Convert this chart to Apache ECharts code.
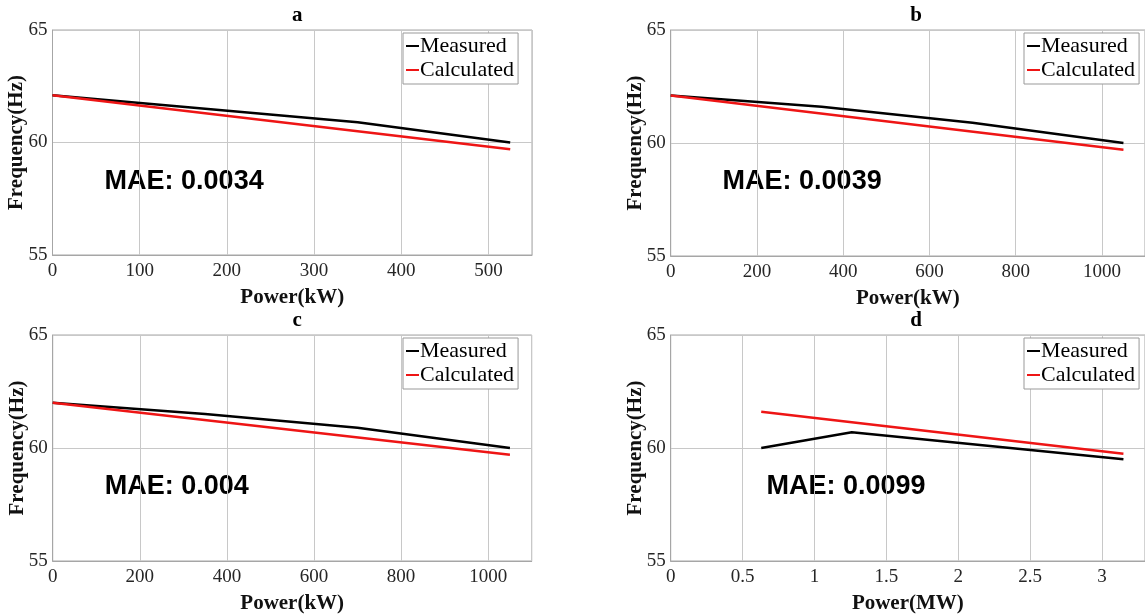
<!DOCTYPE html>
<html>
<head>
<meta charset="utf-8">
<script src="https://cdn.jsdelivr.net/npm/echarts@6/dist/echarts.min.js"></script>
<style>
html, body { margin: 0; padding: 0; background: #fff; }
#main { width: 1145px; height: 616px; }
</style>
</head>
<body>
<div id="main"></div>
<script>
// a: 0-525 kW
var aPower = [0, 175, 350, 525];
var aMeasured = [62.1, 61.5, 60.9, 60.0];
var aCalcPower = [0, 525];
var aCalculated = [62.1, 59.7];
// b: 0-1050 kW
var bPower = [0, 350, 700, 1050];
var bMeasured = [62.1, 61.6, 60.9, 60.0];
var bCalcPower = [0, 1050];
var bCalculated = [62.1, 59.7];
// c: 0-1050 kW
var cPower = [0, 350, 700, 1050];
var cMeasured = [62.0, 61.5, 60.9, 60.0];
var cCalcPower = [0, 1050];
var cCalculated = [62.0, 59.7];
// d: MW
var dPower = [0.63, 1.26, 1.89, 2.52, 3.15];
var dMeasured = [60.0, 60.7, 60.3, 59.9, 59.5];
var dCalcPower = [0.63, 3.15];
var dCalculated = [61.6, 59.75];

var panelTitles = ['a', 'b', 'c', 'd'];
var maeLabels = ['MAE: 0.0034', 'MAE: 0.0039', 'MAE: 0.004', 'MAE: 0.0099'];
var xNames = ['Power(kW)', 'Power(kW)', 'Power(kW)', 'Power(MW)'];
var xMax = [550, 1100, 1100, 3.3];
var xStep = [100, 200, 200, 0.5];

var serif = '"Liberation Serif", "Times New Roman", serif';
var sans = '"Liberation Sans", Arial, sans-serif';
var red = '#ee1515';

function pairs(xs, ys) {
	var out = [];
	for (var i = 0; i < xs.length; i++) out.push([xs[i], ys[i]]);
	return out;
}

var grids = [
	{left: 52.5, top: 30, width: 479.5, height: 225},
	{left: 670.7, top: 30, width: 480.7, height: 226},
	{left: 52.7, top: 335, width: 479, height: 226},
	{left: 670.7, top: 335, width: 481, height: 226}
];
var legendPos = [[403, 33], [1024, 33], [403, 338], [1024, 338]];
var maeLeft = [104.6, 722.6, 104.7, 766.4];

var seriesData = [
	[pairs(aPower, aMeasured), pairs(aCalcPower, aCalculated)],
	[pairs(bPower, bMeasured), pairs(bCalcPower, bCalculated)],
	[pairs(cPower, cMeasured), pairs(cCalcPower, cCalculated)],
	[pairs(dPower, dMeasured), pairs(dCalcPower, dCalculated)]
];

var option = {
	backgroundColor: '#fff',
	animation: false,
	title: [], grid: [], xAxis: [], yAxis: [], legend: [], series: [], graphic: []
};

for (var i = 0; i < 4; i++) {
	var g = grids[i];
	option.grid.push({
		left: g.left, top: g.top, width: g.width, height: g.height,
		show: true, borderColor: '#a6a6a6', borderWidth: 1, backgroundColor: '#fff'
	});
	option.title.push({
		text: panelTitles[i],
		left: g.left + g.width / 2,
		textAlign: 'center',
		top: g.top - 30,
		textStyle: {fontFamily: serif, fontWeight: 'bold', fontSize: 21, color: '#000'}
	});
	option.xAxis.push({
		type: 'value', gridIndex: i,
		min: 0, max: xMax[i], interval: xStep[i],
		name: xNames[i], nameLocation: 'middle', nameGap: 32, nameMoveOverlap: false,
		nameTextStyle: {fontFamily: serif, fontWeight: 'bold', fontSize: 21, color: '#111'},
		axisLine: {lineStyle: {color: '#a6a6a6'}},
		axisTick: {show: false},
		axisLabel: {
			showMaxLabel: false, margin: 7,
			fontFamily: serif, fontSize: 19, color: '#262626',
			formatter: function (v) { return String(v); }
		},
		splitLine: {lineStyle: {color: '#c8c8c8', width: 1}}
	});
	option.yAxis.push({
		type: 'value', gridIndex: i,
		min: 55, max: 65, interval: 5,
		name: 'Frequency(Hz)', nameLocation: 'middle', nameGap: 25, nameRotate: 90,
		nameMoveOverlap: false,
		nameTextStyle: {fontFamily: serif, fontWeight: 'bold', fontSize: 21, color: '#111'},
		axisLine: {show: true, lineStyle: {color: '#a6a6a6'}},
		axisTick: {show: false},
		axisLabel: {margin: 5, fontFamily: serif, fontSize: 19, color: '#262626'},
		splitLine: {lineStyle: {color: '#c8c8c8', width: 1}}
	});
	option.legend.push({
		orient: 'vertical',
		left: legendPos[i][0], top: legendPos[i][1],
		data: ['Measured', 'Calculated'],
		icon: 'rect', itemWidth: 13, itemHeight: 2, itemGap: 0,
		padding: [1, 4, 2, 3],
		backgroundColor: '#fff', borderColor: '#999', borderWidth: 1,
		selectedMode: false,
		textStyle: {fontFamily: serif, fontSize: 22, color: '#000', lineHeight: 24, padding: [0, 0, 0, -4]}
	});
	option.series.push({
		name: 'Measured', type: 'line', xAxisIndex: i, yAxisIndex: i,
		data: seriesData[i][0], showSymbol: false, symbol: 'none',
		lineStyle: {color: '#000', width: 2.5}, itemStyle: {color: '#000'}
	});
	option.series.push({
		name: 'Calculated', type: 'line', xAxisIndex: i, yAxisIndex: i,
		data: seriesData[i][1], showSymbol: false, symbol: 'none',
		lineStyle: {color: red, width: 2.5}, itemStyle: {color: red}
	});
	option.graphic.push({
		type: 'text',
		x: maeLeft[i], y: g.top + 152,
		style: {
			text: maeLabels[i],
			font: 'bold 27px ' + sans,
			fill: '#000',
			verticalAlign: 'middle'
		}
	});
}

var chart = echarts.init(document.getElementById('main'));
chart.setOption(option);
</script>
</body>
</html>
